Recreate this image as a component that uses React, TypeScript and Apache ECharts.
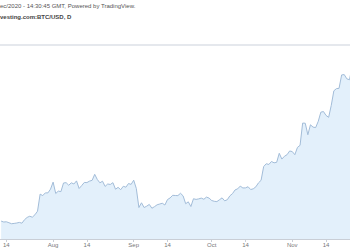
import React, { useEffect, useRef } from "react";
import * as echarts from "echarts";

const startDate = "2020-07-12";
const prices: number[] = [
  // Jul 12 - Jul 31
  9300, 9240, 9255, 9195, 9130, 9150, 9175, 9215, 9165, 9390,
  9535, 9610, 9550, 9705, 9935, 11030, 10935, 11110, 11110, 11350,
  // Aug 1 - Aug 31
  11800, 11070, 11225, 11190, 11745, 11765, 11600, 11755, 11680, 11880,
  11390, 11580, 11780, 11770, 11865, 11915, 12300, 11970, 11755, 11860,
  11525, 11680, 11650, 11765, 11345, 11465, 11315, 11535, 11475, 11710,
  11655,
  // Sep 1 - Sep 30
  11925, 11395, 10170, 10475, 10170, 10255, 10370, 10125, 10225, 10345,
  10395, 10445, 10330, 10680, 10785, 10955, 10940, 10935, 11085, 10920,
  10415, 10535, 10235, 10735, 10690, 10725, 10775, 10700, 10840, 10775,
  // Oct 1 - Oct 31
  10620, 10570, 10550, 10670, 10790, 10600, 10670, 10920, 11060, 11300,
  11370, 11545, 11425, 11430, 11505, 11325, 11370, 11500, 11750, 11915,
  12800, 12980, 12935, 13125, 13040, 13070, 13650, 13280, 13460, 13560,
  13800,
  // Nov 1 - Nov 24
  13760, 13560, 14030, 14160, 15590, 15580, 14840, 15480, 15330, 15300,
  15700, 16290, 16330, 16080, 15960, 16720, 17660, 17800, 17820, 18680,
  18700, 18430, 18370, 19160,
];

const tickDates = ["2020-07-14", "2020-08-01", "2020-08-14", "2020-09-01", "2020-09-14", "2020-10-01", "2020-10-14", "2020-11-01", "2020-11-14"];
const tickLabels = ["14", "Aug", "14", "Sep", "14", "Oct", "14", "Nov", "14"];

const headerLine1 = "ec/2020 - 14:30:45 GMT, Powered by TradingView.";
const headerLine2 = "vesting.com:BTC/USD, D";

const DAY = 86400000;
const toTs = (s: string) => {
  const [y, m, d] = s.split("-").map(Number);
  return Date.UTC(y, m - 1, d);
};

export default function App() {
  const ref = useRef<HTMLDivElement>(null);
  useEffect(() => {
    if (!ref.current) return;
    const chart = echarts.init(ref.current, undefined, { renderer: "svg" });
    const t0 = toTs(startDate);
    // x as day offset from the start date
    const data = prices.map((p, i) => [i, p]);
    const tickDays = tickDates.map((d) => Math.round((toTs(d) - t0) / DAY));
    const xMin = -0.4;
    const xMax = xMin + 350 / 2.6;
    chart.setOption({
      animation: false,
      grid: { left: 0, right: 0, top: 45, bottom: 11 },
      xAxis: {
        type: "value",
        min: xMin,
        max: xMax,
        axisLine: { show: true, lineStyle: { color: "#c9ced6", width: 1 } },
        axisTick: { show: true, length: 3, lineStyle: { color: "#c9ced6" }, customValues: tickDays },
        axisLabel: {
          customValues: tickDays,
          fontSize: 6,
          color: "#777",
          margin: 3,
          fontFamily: "Liberation Sans, Arial, sans-serif",
          formatter: (v: number) => {
            const i = tickDays.indexOf(Math.round(v));
            return i >= 0 ? tickLabels[i] : "";
          },
        },
        splitLine: { show: false },
      },
      yAxis: {
        type: "value",
        min: 8150,
        max: 20600,
        show: false,
        splitLine: { show: false },
      },
      series: [
        {
          type: "line",
          data,
          showSymbol: false,
          symbol: "none",
          lineStyle: { color: "#a2bcd8", width: 1 },
          areaStyle: { color: "#e3f0fb", opacity: 1 },
          clip: true,
        },
      ],
      graphic: [
        {
          type: "line",
          shape: { x1: 0, y1: 45, x2: 350, y2: 45 },
          style: { stroke: "#dde1e7", lineWidth: 1.5 },
        },
        {
          type: "text",
          left: 0,
          top: 3,
          style: { text: headerLine1, fontSize: 6, fill: "#555", fontFamily: "Liberation Sans, Arial, sans-serif" },
        },
        {
          type: "text",
          left: 0,
          top: 14,
          style: { text: headerLine2, fontSize: 6, fontWeight: "bold", fill: "#444", fontFamily: "Liberation Sans, Arial, sans-serif" },
        },
      ],
    });
    return () => chart.dispose();
  }, []);
  return <div ref={ref} style={{ width: 350, height: 250, position: "absolute", left: 0, top: 0 }} />;
}
